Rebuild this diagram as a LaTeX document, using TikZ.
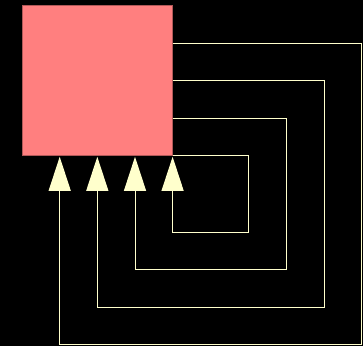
\documentclass[tikz,border=0pt]{standalone}
\usetikzlibrary{arrows.meta}
\definecolor{boxfill}{HTML}{FF7F7F}
\definecolor{boxedge}{HTML}{B05858}
\definecolor{linec}{HTML}{FFFFCC}
\begin{document}
\begin{tikzpicture}[x=1pt,y=-1pt,
  sq/.style={draw=boxedge,fill=boxfill,line width=0.8pt,minimum width=150pt,minimum height=150pt,inner sep=0pt,outer sep=0pt},
  conn/.style={draw=linec,line width=1pt,-{Triangle[length=34pt,width=22pt,fill=linec]}}]
\fill[black] (0,0) rectangle (363,346);
\useasboundingbox (0,0) rectangle (363,346);
\node[sq] (box) at (97.6,80.6) {};
% exits
\coordinate (e1) at (172.6,43);
\coordinate (e2) at (172.6,80.7);
\coordinate (e3) at (172.6,118.3);
\coordinate (e4) at (172.6,155.6);
% entries (tips)
\coordinate (t1) at (59.7,156.8);
\coordinate (t2) at (97.3,156.8);
\coordinate (t3) at (135,156.8);
\coordinate (t4) at (172.6,156.8);
\draw[conn] (e1) -- (361.7,43) -- (361.7,344.7) -- (59.7,344.7) -- (t1);
\draw[conn] (e2) -- (324.3,80.7) -- (324.3,307.3) -- (97.3,307.3) -- (t2);
\draw[conn] (e3) -- (286.3,118.3) -- (286.3,269.7) -- (135,269.7) -- (t3);
\draw[conn] (e4) -- (248.7,155.6) -- (248.7,232) -- (172.6,232) -- (t4);
\end{tikzpicture}
\end{document}
